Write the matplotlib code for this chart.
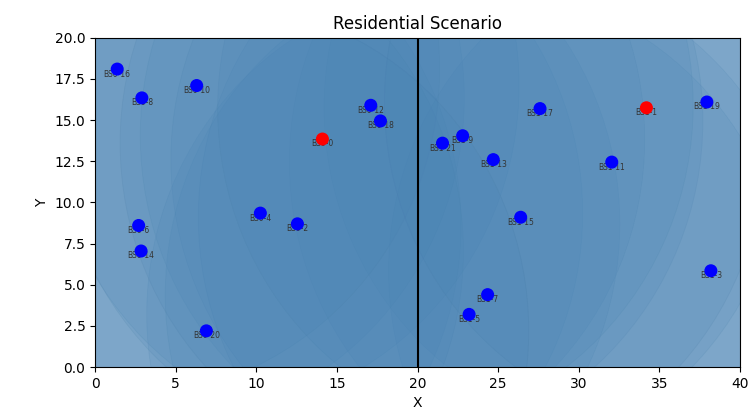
import matplotlib
matplotlib.use("Agg")
import matplotlib.pyplot as plt
from matplotlib.patches import Circle

# base stations: left cluster (0) and right cluster (1)
names = ["BS0-0", "BS1-1", "BS0-2", "BS1-3", "BS0-4", "BS1-5", "BS0-6", "BS1-7",
         "BS0-8", "BS1-9", "BS0-10", "BS1-11", "BS0-12", "BS1-13", "BS0-14", "BS1-15",
         "BS0-16", "BS1-17", "BS0-18", "BS1-19", "BS0-20", "BS1-21"]
xs = [14.1, 34.2, 12.55, 38.2, 10.25, 23.2, 2.7, 24.35,
      2.9, 22.8, 6.3, 32.05, 17.1, 24.7, 2.85, 26.4,
      1.37, 27.6, 17.7, 37.95, 6.9, 21.55]
ys = [13.85, 15.75, 8.7, 5.85, 9.35, 3.2, 8.6, 4.4,
      16.35, 14.05, 17.1, 12.45, 15.9, 12.6, 7.05, 9.1,
      18.1, 15.7, 14.95, 16.1, 2.2, 13.6]
is_macro = [True, True] + [False] * 20
radius = 20

fig, ax = plt.subplots(figsize=(7.55, 4.2), dpi=100)
fig.subplots_adjust(left=0.126, right=0.98, bottom=0.126, top=0.91)

for x, y in zip(xs, ys):
    ax.add_patch(Circle((x, y), radius, facecolor="#4682b4", edgecolor="#3a6f9a",
                        linewidth=0.6, alpha=0.12, zorder=1))

for x, y, n in zip(xs, ys, names):
    ax.text(x, y - 0.3, n, fontsize=5.5, ha="center", va="center", color="#333333", zorder=3)

colors = ["red" if m else "blue" for m in is_macro]
ax.scatter(xs, ys, c=colors, s=70, zorder=4)

ax.axvline(20, color="black", linewidth=1.5, zorder=5)
ax.set_xlim(0, 40)
ax.set_ylim(0, 20)
ax.set_title("Residential Scenario")
ax.set_xlabel("X")
ax.set_ylabel("Y")
plt.savefig("out.png")
